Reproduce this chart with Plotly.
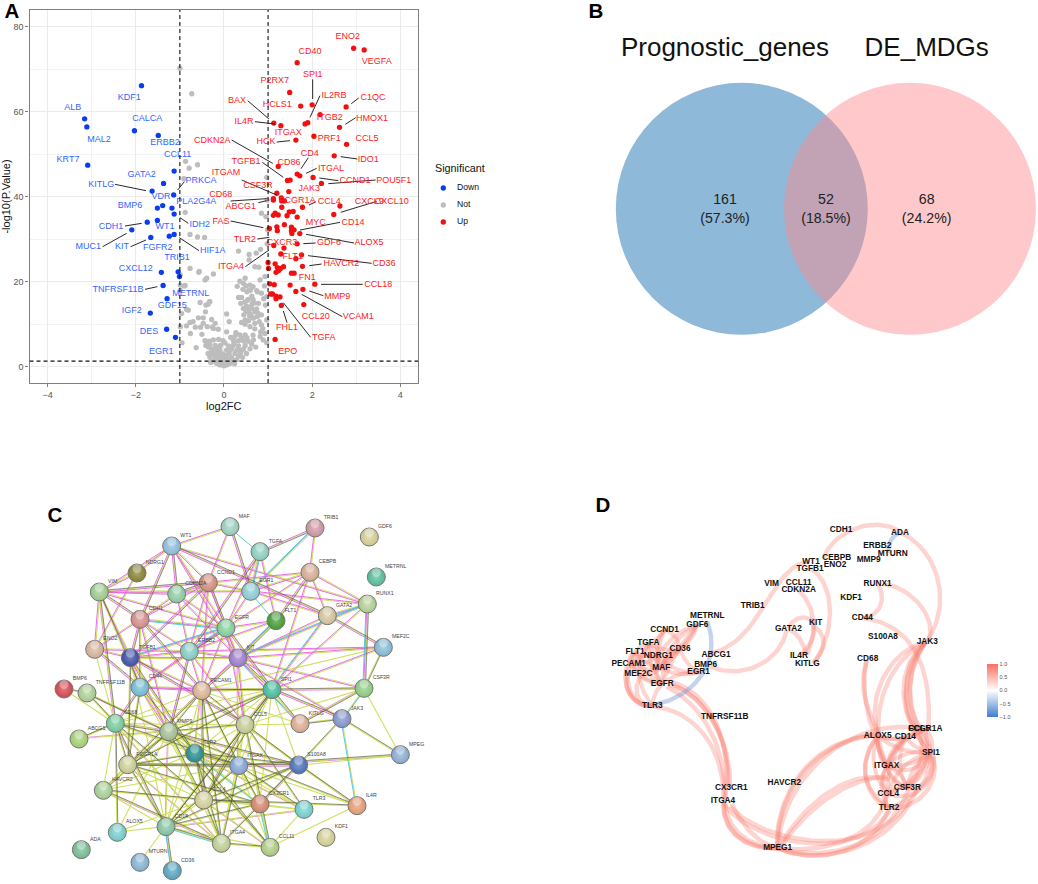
import plotly.graph_objects as go

W, H = 1038, 884

# ---------- Panel A data ----------
down_x = [-1.87,-3.16,-3.11,-2.03,-1.49,-3.09,-1.13,-1.37,-1.63,-1.14,-1.51,-1.39,-1.18,-1.13,-1.74,-1.51,-2.09,-1.66,-1.24,-1.13,-1.42,-1.04,-1.01,-1.38,-1.29,-1.67,-1.30,-1.10]
down_y = [66.1,58.3,56.4,55.5,54.4,47.4,46.0,43.1,41.3,40.4,37.3,37.9,37.3,35.9,34.0,34.4,32.2,30.4,30.7,31.1,22.2,22.3,21.2,19.1,16.0,12.6,8.8,6.9]
up_x = [2.94,3.18,1.66,1.49,1.74,2.0,2.77,2.18,1.90,1.84,2.62,1.13,1.29,2.04,1.63,2.78,2.50,1.23,1.66,1.72,2.02,1.44,1.50,2.21,1.47,1.20,1.12,1.12,1.30,1.31,1.37,2.63,1.78,1.31,2.49,1.12,1.16,1.23,1.48,1.57,1.43,1.66,1.37,1.20,1.53,1.21,1.03,1.53,1.59,1.54,1.72,1.66,1.13,1.36,1.29,1.76,1.63,1.0,1.16,1.78,1.35,1.01,1.21,1.28,1.18,1.24,1.53,1.59,1.04,1.14,1.50,2.06,1.79,1.63,1.06,1.10,1.18,1.18,1.27,1.30,1.81,1.16]
up_y = [74.9,74.5,71.5,64.5,61.3,61.6,61.1,59.3,57.4,57.1,56.3,57.3,56.7,54.2,53.3,52.3,49.6,47.1,45.3,44.9,44.5,43.8,43.9,43.1,41.2,40.8,39.5,39.2,39.7,39.0,39.0,37.8,37.5,37.5,35.8,35.6,36.1,35.7,36.4,36.5,35.5,35.2,33.4,32.9,32.8,32.0,32.5,32.0,32.2,31.3,31.3,28.9,28.5,27.9,26.5,26.3,25.4,24.5,24.2,23.6,23.5,23.1,23.3,23.1,22.2,22.6,22.0,22.0,19.5,19.3,19.2,19.4,18.2,17.7,17.1,17.1,16.6,16.0,16.4,14.4,14.6,6.4]
not_x = [0,-.09,.06,-.17,-.05,.02,.14,-.24,-.13,-.02,.10,.21,.29,-.32,-.20,-.09,.05,.17,.33,.42,-.36,-.26,-.15,-.03,.12,.25,.38,.51,-.28,-.18,-.09,.06,.17,.29,.44,.59,-.41,-.32,-.20,-.08,.10,.21,.33,.48,.63,-.43,-.33,-.24,-.02,.21,.33,.44,.55,.67,.25,.36,.48,.82,.89,.97,.83,.93,.06,-.13,-.26,-.38,-.47,-.53,-.70,-.77,-.85,-.76,-.95,-.63,-.99,-.85,-.54,-.41,-.33,.06,.12,-.28,-.47,-.20,-.24,.40,.48,.45,.55,.44,.51,.63,.70,.59,.67,.76,.85,.80,.70,.59,.85,.55,.40,.33,.63,.78,.76,.85,.44,.50,.59,.82,.48,-.24,-.56,-.99,-.88,-.99,-.99,.93,.97,.94,.97,-1.0,-.73,-.87,-.79,-.60,-.91,.97,-.88,-.77,-.60,-.44,.33,.57,.73,.83,.57,.70,.79,-.77,.98,.85,.95,.98,.99,-.57,-.39,-.43,-.90,-.81,-.96,-.36,-.32,.60,.66,.72,.52,.90,.30,.36,
         -.30,-.22,-.11,.00,.08,.15,.24,-.35,-.27,-.16,-.06,.03,.13,.23,.35,-.37,-.12,.02,.15,.27,.40,.52,.66,.72,.50,.58,.64,.74,.88,.38,.47,.53,.60,.69,.77,.43,.57,.66,.74,.92,.48,.56,.62,.70,-.65,-.58,-.50,-.42]
not_y = [.2,.4,.4,.8,.9,.9,.8,1.4,1.6,1.6,1.4,1.4,1.7,2.2,2.4,2.4,2.2,2.2,2.5,2.2,3.1,3.1,3.3,3.0,3.1,3.1,3.3,3.1,4.1,4.2,3.9,3.9,4.1,3.9,4.1,4.2,5.0,5.2,5.0,5.0,4.9,5.0,4.9,5.0,5.3,6.1,6.0,6.3,6.1,6.3,6.1,6.1,6.0,6.3,7.2,7.5,7.5,7.1,6.3,5.6,8.2,7.8,8.2,8.8,9.3,9.4,10.2,9.3,10.6,10.4,9.6,7.8,5.6,4.5,9.4,13.5,15.1,14.5,15.3,12.4,10.6,11.1,11.5,10.2,9.0,10.4,11.0,12.2,13.3,13.7,14.3,13.7,12.9,12.5,11.4,11.8,12.2,10.6,10.2,9.4,9.8,15.8,16.3,16.3,16.6,14.9,17.6,17.3,19.6,19.0,19.2,20.4,20.8,21.8,22.4,21.6,19.1,19.2,18.0,21.2,16.5,14.5,11.0,70.2,64.2,48.3,46.7,47.5,44.2,44.5,36.3,31.1,30.5,30.4,27.2,26.4,26.7,27.6,25.1,23.5,23.4,23.1,28.9,36.1,35.3,39.2,32.2,22.2,20.8,20.4,19.0,13.3,12.5,14.7,15.3,18.0,15.8,13.0,17.6,16.0,18.9,20.1,
         1.0,2.9,.6,1.1,.6,1.9,.7,4.6,3.5,4.5,2.9,2.7,4.5,5.6,3.8,5.8,6.4,5.6,6.9,8.0,6.7,6.8,7.4,4.6,13.0,12.0,14.8,13.6,9.0,14.9,15.2,15.6,14.0,15.0,12.6,18.2,18.0,18.8,17.9,19.0,10.0,10.8,11.9,8.9,9.3,11.5,7.6,12.9]

# gene labels of panel A, read as crop positions (left crop, right crop)
blue_labels = ["KDF1","ALB","CALCA","MAL2","ERBB2","CCL11","KRT7","GATA2","PRKCA","KITLG","VDR","PLA2G4A","BMP6","IDH2","CDH1","WT1","MUC1","KIT","FGFR2","HIF1A","TRIB1","CXCL12","TNFRSF11B","METRNL","GDF15","IGF2","DES","EGR1"]
blue_lx = [388,218,442,297,495,533,204,425,603,304,483,589,390,599,333,495,265,366,473,638,531,407,354,572,517,395,447,484]
blue_ly = [293,323,357,418,427,463,480,524,542,554,590,604,617,674,679,679,741,741,744,751,772,807,870,880,917,932,995,1056]
red_labels = ["ENO2","CD40","VEGFA","SPI1","P2RX7","IL2RB","C1QC","HCLS1","ITGB2","HMOX1","ITGAX","PRF1","CCL5","CD4","IDO1","CD86","ITGAL","CCND1","POU5F1","JAK3","FCGR1A","CCL4","CXCL9","CXCL10","MYC","CD14","GDF6","ALOX5","CXCR3","FLT1","HAVCR2","CD36","FN1","CCL18","MMP9","CCL20","VCAM1","FHL1","TGFA","EPO"]
red_lx = [383,270,470,278,164,342,459,172,329,456,205,328,441,269,445,207,333,405,521,268,232,328,448,515,287,399,327,447,186,218,364,492,262,475,352,287,415,201,311,203]
red_ly = [110,154,186,224,241,286,292,313,354,355,398,416,417,460,479,488,505,542,542,565,601,605,605,605,667,667,729,729,727,769,792,792,832,853,889,950,950,984,1014,1054]
red2_labels = ["BAX","IL4R","CDKN2A","HCK","TGFB1","ITGAM","CSF3R","CD68","ABCG1","FAS","TLR2","ITGA4"]
red2_lx = [201,222,127,288,228,168,264,152,212,153,224,183]
red2_ly = [122,184,242,246,304,337,378,405,441,486,538,621]

leaders_left = [(345,553,438,572),(553,545,533,570),(565,670,540,653),(375,678,425,670),(308,740,380,700),(392,740,438,720),(597,752,538,713),(435,868,472,860)]
leaders_right = [(83,302,147,357),(105,365,165,372),(35,420,158,490),(170,426,210,422),(127,487,190,532),(65,540,170,585),(32,603,140,596),(115,608,140,602),(32,663,130,683),(112,717,148,712),(76,800,147,750),(278,238,278,297),(300,287,270,352),(416,294,394,311),(407,353,376,373),(265,473,243,506),(290,505,258,520),(412,477,362,470),(355,542,298,534),(467,540,325,551),(288,605,267,615),(470,604,362,637),(360,667,240,690),(402,729,258,703),(287,729,250,731),(455,790,264,767),(305,792,268,797),(428,853,303,853),(310,887,268,873),(367,950,245,883),(272,1012,190,908),(201,968,190,933)]

legend_names = ["Down", "Not", "Up"]
legend_colors = ["#0a3cf0", "#bdbdbd", "#f01010"]

# ---------- Panel B ----------
venn_sets = ["Prognostic_genes", "DE_MDGs"]
venn_counts = ["161<br>(57.3%)", "52<br>(18.5%)", "68<br>(24.2%)"]

# ---------- Panel C ----------
c_names = ["MAF","TRIB1","GDF6","WT1","TGFA","NDRG1","CCND1","CEBPB","METRNL","VIM","CDKN2A","EGR1","RUNX1","CDH1","GATA2","FLT1","EGFR","MEF2C","ENO2","TGFB1","ERBB2","KIT","BMP6","TNFRSF11B","CD44","PECAM1","SPI1","CSF3R","JAK3","KITLG","CD68","MMP9","CCL5","ABCG1","TLR2","MPEG","FCGR1A","ITGAX","S100A8","HAVCR2","CCL4","CX3CR1","TLR3","IL4R","ALOX5","CD14","ITGA4","CCL11","KDF1","ADA","MTURN","CD36"]
c_x = [570,825,988,395,660,291,505,810,1009,178,410,632,982,300,862,708,558,1030,164,271,448,594,72,141,300,485,696,972,906,780,226,386,615,117,464,1081,263,596,776,190,491,660,792,951,232,378,544,690,858,124,300,397]
c_y = [110,114,141,168,185,249,278,247,261,306,312,304,342,388,377,392,414,472,478,503,484,504,597,609,592,602,599,595,686,701,700,725,704,747,790,794,824,827,825,901,930,942,958,947,1027,1010,1060,1072,1042,1079,1117,1142]
c_colors = ["#a0d8c4","#d89cac","#ddd59c","#94c4e4","#94d8c8","#8f8a38","#dd9484","#deb49c","#5cc4a0","#a4d494","#94d4ac","#94d4dc","#bcd89c","#dd9494","#ddcca4","#4ca43c","#8cd8a4","#8cc4dc","#ddbca4","#4454ac","#8cd4cc","#a484d4","#dd4c54","#b4d89c","#7cc4dc","#e4bc9c","#4cc4a4","#94d48c","#8c9cd4","#e4b49c","#7cd4a4","#acc89c","#ccd49c","#acd87c","#2c9494","#94b4dc","#d4d89c","#8cacdc","#5078c0","#acd89c","#dcd8a4","#dd8c74","#7cd8d8","#eca47c","#7cd4d4","#8cccac","#c4d89c","#b4d48c","#dcd89c","#7cc49c","#8cbcdc","#5cacc8"]
c_edges_upper = "WT1-CDKN2A WT1-VIM WT1-NDRG1 WT1-EGFR WT1-GATA2 WT1-RUNX1 WT1-CCND1 WT1-KIT WT1-CDH1 VIM-NDRG1 VIM-CDKN2A VIM-EGFR VIM-CDH1 VIM-ENO2 VIM-TGFB1 VIM-EGR1 VIM-CCND1 NDRG1-ENO2 CDH1-EGFR CDH1-ERBB2 CDH1-TGFB1 CDH1-CDKN2A CDH1-CCND1 CDH1-CD44 CDKN2A-CCND1 CDKN2A-EGFR CDKN2A-ERBB2 CDKN2A-KIT CCND1-EGFR CCND1-ERBB2 CCND1-KIT CCND1-EGR1 CCND1-TGFB1 EGR1-EGFR EGR1-CEBPB EGR1-TGFA MAF-EGR1 MAF-CCND1 MAF-WT1 TGFA-EGFR TGFA-ERBB2 TGFA-FLT1 TRIB1-CEBPB TRIB1-EGR1 TRIB1-TGFA CEBPB-GATA2 CEBPB-RUNX1 CEBPB-EGFR CEBPB-FLT1 CEBPB-SPI1 CEBPB-CCND1 GATA2-RUNX1 GATA2-MEF2C GATA2-KIT GATA2-SPI1 GATA2-EGR1 RUNX1-CSF3R RUNX1-SPI1 RUNX1-KIT RUNX1-EGR1 FLT1-KIT FLT1-EGFR FLT1-ERBB2 FLT1-PECAM1 EGFR-ERBB2 EGFR-KIT EGFR-TGFB1 EGFR-CD44 EGFR-SPI1 ERBB2-KIT ERBB2-TGFB1 ERBB2-CD44 KIT-SPI1 KIT-CSF3R KIT-KITLG KIT-TGFB1 KIT-PECAM1 TGFB1-CD44 TGFB1-MMP9 TGFB1-PECAM1 TGFB1-CCL5 CD44-MMP9 CD44-PECAM1 CD44-SPI1 CD44-CD68 ENO2-TGFB1 ENO2-ERBB2 ENO2-CDH1 ENO2-CD44 MEF2C-KIT MEF2C-ERBB2 MEF2C-SPI1 CDH1-PECAM1 CDH1-MMP9 CCND1-PECAM1 ERBB2-PECAM1 ERBB2-MMP9 EGFR-PECAM1 KIT-CCL5 KIT-JAK3 SPI1-JAK3 EGFR-CCL5 ERBB2-CCL5".split()
c_edges_immune = "PECAM1-MMP9 PECAM1-TLR2 PECAM1-CCL5 PECAM1-SPI1 PECAM1-ITGAX PECAM1-CD14 PECAM1-CCL4 PECAM1-CX3CR1 PECAM1-ITGA4 PECAM1-CD68 PECAM1-FCGR1A PECAM1-HAVCR2 PECAM1-CSF3R PECAM1-KITLG SPI1-MMP9 SPI1-TLR2 SPI1-CCL5 SPI1-ITGAX SPI1-CD14 SPI1-CD68 SPI1-FCGR1A SPI1-CSF3R SPI1-KITLG SPI1-S100A8 SPI1-CCL4 SPI1-CX3CR1 MMP9-CD68 MMP9-TLR2 MMP9-CCL5 MMP9-ITGAX MMP9-FCGR1A MMP9-CD14 MMP9-CCL4 MMP9-CX3CR1 MMP9-HAVCR2 MMP9-ITGA4 MMP9-S100A8 MMP9-TLR3 MMP9-IL4R MMP9-ALOX5 MMP9-CCL11 MMP9-ABCG1 MMP9-TNFRSF11B CD68-TLR2 CD68-FCGR1A CD68-HAVCR2 CD68-CD14 CD68-CCL5 CD68-ITGAX CD68-ABCG1 CD68-ALOX5 CD68-ITGA4 CD68-CCL4 CD68-TNFRSF11B TLR2-FCGR1A TLR2-CCL5 TLR2-ITGAX TLR2-CD14 TLR2-CCL4 TLR2-CX3CR1 TLR2-ITGA4 TLR2-TLR3 TLR2-S100A8 TLR2-HAVCR2 TLR2-CCL11 CCL5-ITGAX CCL5-CCL4 CCL5-CX3CR1 CCL5-CD14 CCL5-KITLG CCL5-TLR3 CCL5-IL4R CCL5-S100A8 CCL5-ITGA4 CCL5-CCL11 CCL5-CSF3R ITGAX-FCGR1A ITGAX-HAVCR2 ITGAX-CD14 ITGAX-CCL4 ITGAX-CX3CR1 ITGAX-S100A8 ITGAX-TLR3 ITGAX-IL4R ITGAX-ITGA4 ITGAX-CCL11 ITGAX-MPEG FCGR1A-HAVCR2 FCGR1A-CD14 FCGR1A-CCL4 FCGR1A-S100A8 FCGR1A-ITGA4 FCGR1A-CX3CR1 HAVCR2-CD14 HAVCR2-CCL4 HAVCR2-CX3CR1 HAVCR2-ITGA4 CCL4-CD14 CCL4-CX3CR1 CCL4-TLR3 CCL4-ITGA4 CCL4-CCL11 CCL4-IL4R CCL4-ALOX5 CCL4-S100A8 CD14-ALOX5 CD14-CD36 CD14-MTURN CD14-ITGA4 CD14-CCL11 CD14-CX3CR1 CD14-TLR3 CD14-S100A8 CX3CR1-TLR3 CX3CR1-ITGA4 CX3CR1-CCL11 CX3CR1-S100A8 TLR3-CCL11 S100A8-JAK3 S100A8-MPEG S100A8-IL4R JAK3-CSF3R JAK3-MPEG JAK3-IL4R JAK3-KITLG CSF3R-MPEG CSF3R-KITLG IL4R-CCL11 BMP6-TNFRSF11B BMP6-CD68 TNFRSF11B-CD68 TNFRSF11B-MMP9 ABCG1-CD68 ENO2-CD68 VIM-CD44 VIM-MMP9 VIM-CD68 MEF2C-PECAM1 MEF2C-CSF3R CD14-ITGAX ITGA4-CCL11 KIT-ITGAX CD44-TLR2 CD44-ITGAX CD44-FCGR1A CD44-CCL4 TGFB1-TLR2 TGFB1-CD14 TGFB1-FCGR1A".split()
c_edges_cyan = "EGR1-FLT1 EGR1-TGFA MAF-TGFA TRIB1-EGR1 RUNX1-CSF3R GATA2-RUNX1 JAK3-CSF3R JAK3-IL4R EGFR-ERBB2 FLT1-KIT CD14-CD36 KIT-KITLG CD14-ITGA4 TLR2-CX3CR1 CX3CR1-CCL11 S100A8-CX3CR1 EGFR-TGFB1 CDH1-EGFR GATA2-SPI1 RUNX1-KIT".split()

# ---------- Panel D ----------
d_names = ["CDH1","ADA","ERBB2","MTURN","CEBPB","MMP9","WT1","ENO2","TGFB1","VIM","CCL11","CDKN2A","RUNX1","KDF1","TRIB1","METRNL","CD44","GDF6","KIT","GATA2","CCND1","S100A8","TGFA","JAK3","CD36","FLT1","ABCG1","NDRG1","IL4R","CD68","PECAM1","KITLG","BMP6","MAF","EGR1","MEF2C","EGFR","TLR3","TNFRSF11B","CCL5","FCGR1A","ALOX5","CD14","SPI1","ITGAX","HAVCR2","CSF3R","CX3CR1","CCL4","ITGA4","TLR2","MPEG1"]
d_x = [753,930,862,908,740,836,663,735,660,545,626,626,863,783,488,352,817,322,677,595,224,879,175,1012,270,135,378,205,627,833,116,652,347,214,326,145,217,187,404,987,1006,863,946,1023,890,583,952,424,895,399,897,563]
d_y = [120,128,167,191,203,210,217,226,237,281,279,300,283,323,348,377,384,404,400,417,419,441,460,456,477,487,494,498,498,508,522,522,525,535,547,553,582,647,682,716,717,737,741,788,827,880,895,895,912,934,954,1075]
# chord list: gene pair and curve bulge
d_chords = [("TGFA","MAF",.1),("TGFA","FLT1",.2),("TGFA","EGFR",.2),("TGFA","CD36",.2),("TGFA","CCND1",.2),("FLT1","PECAM1",.3),("FLT1","MEF2C",.3),("FLT1","MAF",.2),("FLT1","NDRG1",.2),("FLT1","EGFR",.2),("PECAM1","MAF",.2),("PECAM1","EGFR",.2),("PECAM1","NDRG1",.2),("MEF2C","EGFR",.2),("MEF2C","MAF",.2),("NDRG1","MAF",.3),("NDRG1","EGFR",.3),("CCND1","NDRG1",.3),("CCND1","MAF",.2),("CCND1","CD36",-.3),("CD36","MAF",.3),("CD36","EGFR",.3),("CD36","GDF6",.2),("GDF6","MAF",.2),("GDF6","MAF",-.1),("GDF6","EGFR",.1),("GDF6","NDRG1",.2),("CD36","EGR1",.2),("EGFR","EGR1",-.2),("MAF","EGR1",.2),("EGFR","TLR3",.2),("TGFA","TLR3",.35),("NDRG1","EGR1",.25),("MAF","CD36",-.2),("TGFA","NDRG1",-.2),("PECAM1","TGFA",.25),("ALOX5","SPI1",.2),("CD14","SPI1",.2),("ITGAX","SPI1",.2),("ITGAX","SPI1",-.25),("ITGAX","SPI1",.45),("SPI1","CSF3R",.25),("SPI1","CSF3R",-.2),("SPI1","CCL4",.3),("SPI1","CCL4",-.2),("SPI1","TLR2",-.35),("ITGAX","CSF3R",.3),("ITGAX","CSF3R",-.25),("ITGAX","CCL4",.3),("ITGAX","TLR2",.3),("CSF3R","CCL4",.3),("CCL4","TLR2",.4),("CD14","ITGAX",.2),("CD14","CSF3R",.25),("FCGR1A","SPI1",-.3),("FCGR1A","ITGAX",.2),("FCGR1A","CSF3R",-.3),("CCL5","ITGAX",.2),("CCL5","SPI1",-.2),("CD14","CCL4",.2),("ALOX5","CD14",.2),("ALOX5","FCGR1A",.25),("ALOX5","ITGAX",.2),("ALOX5","CCL4",.3),("ALOX5","TLR2",.5),("ALOX5","CSF3R",.3),("CCL5","CSF3R",-.25)]
# long hand-read arcs: four control points each (crop positions)
d_arcs = [
 (700,205,730,120,860,75,930,125),(930,128,1035,170,1095,330,1010,455),(880,282,960,290,1045,380,1015,455),(865,285,890,330,870,375,820,385),(825,385,930,400,1030,480,1015,715),
 (830,510,805,590,830,660,868,735),(830,510,805,620,850,740,888,825),(1005,458,900,480,825,620,865,735),(1005,458,880,520,830,700,890,825),(1005,458,910,540,925,690,1020,790),(1005,458,920,540,935,690,1020,790),(1005,458,940,560,950,680,1000,720),(1005,458,930,560,960,690,1015,770),(1005,458,920,570,940,700,990,720),
 (360,490,520,460,540,220,660,215),(660,235,730,270,745,420,670,520),(625,300,680,350,680,430,650,495),(595,415,610,380,650,370,675,400),(590,420,570,520,450,575,350,525),(670,520,720,470,700,420,670,410),(600,420,625,430,640,460,650,495),(670,400,680,440,660,470,630,495),
 (240,585,360,620,420,760,415,890),(230,590,330,640,410,760,405,930),(250,585,350,620,425,760,420,890),(190,650,310,660,405,770,400,930),(245,575,365,610,430,760,405,930),
 (400,935,400,1030,470,1075,563,1075),(400,935,395,1035,475,1080,563,1075),(405,935,410,1025,480,1070,563,1075),(425,940,450,1000,500,1060,563,1075),(400,940,480,1060,800,1130,900,960),(420,950,520,1060,840,1120,960,930),
 (563,1075,690,1130,850,1080,895,960),(563,1075,700,1090,860,1050,890,915),(563,1075,680,1125,900,1090,980,900),(563,1075,690,1110,880,1090,955,900),
 (560,1070,560,880,690,740,865,735),(562,1070,562,885,695,745,865,735),(565,1075,570,880,760,680,990,715),(565,1075,640,940,780,830,900,870),(570,1075,650,950,780,860,895,860),
 (110,560,100,620,150,650,187,646),(110,530,90,610,150,660,187,646),(130,490,85,590,140,660,187,646),(150,560,120,620,160,650,187,646),
 (860,740,790,830,840,945,897,950),(1030,800,1055,900,960,965,897,953),(1030,790,1045,880,970,940,895,912),(1025,800,1040,870,980,910,952,895)]
d_blue_arcs = [(352,395,395,510,320,620,190,645),(930,128,905,135,895,160,895,190)]
cbar_ticks = [-1, -0.5, 0, 0.5, 1]
cbar_text = ["\u22121.0", "\u22120.5", "0.0", "0.5", "1.0"]

# ---------- Helpers for page mapping ----------
def left_crop(x, y): return x / 3, y / 3
def right_crop(x, y): return 220 + x / 3, y / 3
def mid_crop(x, y): return 170 + x / 3, 60 + y / 3
def c_crop(x, y): return 40 + x / 3, 490 + y / 3
def d_crop(x, y): return 590 + x / 3, 490 + y / 3

def cubic(a):
    xs, ys = [], []
    for i in range(33):
        t = i / 32
        u = 1 - t
        px = u**3*a[0] + 3*u*u*t*a[2] + 3*u*t*t*a[4] + t**3*a[6]
        py = u**3*a[1] + 3*u*u*t*a[3] + 3*u*t*t*a[5] + t**3*a[7]
        q = d_crop(px, py)
        xs.append(q[0]); ys.append(q[1])
    return xs, ys

fig = go.Figure()
OV = dict(xaxis="x2", yaxis="y2", showlegend=False, hoverinfo="skip")
DOT = 5.3

# ---- Panel A points ----
fig.add_trace(go.Scatter(x=not_x, y=not_y, mode="markers", name="Not", showlegend=False, marker=dict(color=legend_colors[1], size=DOT)))
fig.add_trace(go.Scatter(x=down_x, y=down_y, mode="markers", name="Down", showlegend=False, marker=dict(color=legend_colors[0], size=DOT)))
fig.add_trace(go.Scatter(x=up_x, y=up_y, mode="markers", name="Up", showlegend=False, marker=dict(color=legend_colors[2], size=DOT)))

# leaders
lx, ly = [], []
for s in leaders_left:
    a = left_crop(s[0], s[1]); b = left_crop(s[2], s[3])
    lx += [a[0], b[0], None]; ly += [a[1], b[1], None]
for s in leaders_right:
    a = right_crop(s[0], s[1]); b = right_crop(s[2], s[3])
    lx += [a[0], b[0], None]; ly += [a[1], b[1], None]
fig.add_trace(go.Scatter(x=lx, y=ly, mode="lines", line=dict(color="#111111", width=0.9), **OV))

def text_trace(names, pts, color, size, bold=False, family="Liberation Sans", pos="middle center"):
    fig.add_trace(go.Scatter(x=[p[0] for p in pts], y=[p[1] for p in pts], text=names, mode="text",
                             textposition=pos, textfont=dict(color=color, size=size, family=family, weight=700 if bold else 400), **OV))

text_trace(blue_labels, [left_crop(a, b) for a, b in zip(blue_lx, blue_ly)], "#3366ff", 9)
text_trace(red_labels, [right_crop(a, b) for a, b in zip(red_lx, red_ly)], "#ff2020", 9)
text_trace(red2_labels, [mid_crop(a, b) for a, b in zip(red2_lx, red2_ly)], "#ff2020", 9)

# legend key
text_trace(["Significant"], [(435, 169)], "#111111", 10.8, pos="middle right")
fig.add_trace(go.Scatter(x=[443.3, 443.3, 443.3], y=[188, 205, 222], mode="markers", marker=dict(color=legend_colors, size=DOT), **OV))
text_trace(legend_names, [(457, 188), (457, 205), (457, 222)], "#111111", 8.6, pos="middle right")

# ---- Panel B ----
shapes = []
shapes.append(dict(type="circle", xref="x2", yref="y2", x0=741.8-126, x1=741.8+126, y0=82.8, y1=334.8, fillcolor="#8fb9d9", line=dict(width=0), layer="below"))
shapes.append(dict(type="circle", xref="x2", yref="y2", x0=910-126, x1=910+126, y0=82.8, y1=334.8, fillcolor="rgba(255,138,142,0.46)", line=dict(width=0), layer="below"))
text_trace(venn_sets, [(725, 49), (926.7, 49)], "#111111", 26)
text_trace(venn_counts, [(725, 210), (826, 210), (926.7, 210)], "#222222", 14.2)

# ---- Panel C ----
cpos = {n: c_crop(a, b) for n, a, b in zip(c_names, c_x, c_y)}
def edges_trace(edges, color, off, width):
    xs, ys = [], []
    for e in edges:
        a, b = e.split("-")
        p, q = cpos[a], cpos[b]
        dx, dy = q[0]-p[0], q[1]-p[1]
        n = (dx*dx + dy*dy) ** .5
        ox, oy = -dy/n*off, dx/n*off
        xs += [p[0]+ox, q[0]+ox, None]; ys += [p[1]+oy, q[1]+oy, None]
    fig.add_trace(go.Scatter(x=xs, y=ys, mode="lines", line=dict(color=color, width=width), **OV))
edges_trace(c_edges_immune[1::5], "#df55df", 1.0, 0.7)
edges_trace(c_edges_immune, "#cfe060", 0.3, 1.1)
edges_trace(c_edges_upper, "#cfe060", -0.7, 1.0)
edges_trace(c_edges_upper, "#e35fe3", 0.4, 0.9)
edges_trace(c_edges_cyan, "#3fc8e2", 1.2, 0.9)
edges_trace(c_edges_upper[::4], "#4a4a4a", -1.4, 0.6)
edges_trace(c_edges_immune[::2], "#4d4d3c", -0.6, 0.65)

ptsc = [cpos[n] for n in c_names]
def darker(h, f):
    r, g, b = int(h[1:3], 16), int(h[3:5], 16), int(h[5:7], 16)
    return "rgb(%d,%d,%d)" % (r*f, g*f, b*f)
def lighter(h, f):
    r, g, b = int(h[1:3], 16), int(h[3:5], 16), int(h[5:7], 16)
    return "rgb(%d,%d,%d)" % (r+(255-r)*f, g+(255-g)*f, b+(255-b)*f)
fig.add_trace(go.Scatter(x=[p[0] for p in ptsc], y=[p[1] for p in ptsc], mode="markers",
    marker=dict(size=18, color=[darker(c, .92) for c in c_colors],
                gradient=dict(type="radial", color=[lighter(c, .25) for c in c_colors]),
                line=dict(color="#77776f", width=1)), **OV))
fig.add_trace(go.Scatter(x=[p[0] for p in ptsc], y=[p[1]-4.5 for p in ptsc], mode="markers",
    marker=dict(size=9, color="rgba(255,255,255,0.35)", line=dict(width=0)), **OV))
text_trace(c_names, [(p[0]+8.7, p[1]-10.2) for p in ptsc], "#444444", 5.2, pos="middle right")

# ---- Panel D ----
dpos = {n: d_crop(a, b) for n, a, b in zip(d_names, d_x, d_y)}
CH = "#fa8072"
for a, b, k in d_chords:
    p, q = dpos[a], dpos[b]
    mx, my = (p[0]+q[0])/2 - (q[1]-p[1])*k, (p[1]+q[1])/2 + (q[0]-p[0])*k
    xs, ys = [], []
    for i in range(21):
        t = i/20; u = 1-t
        xs.append(u*u*p[0] + 2*u*t*mx + t*t*q[0]); ys.append(u*u*p[1] + 2*u*t*my + t*t*q[1])
    fig.add_trace(go.Scatter(x=xs, y=ys, mode="lines", opacity=.33, line=dict(color=CH, width=4), **OV))
for a in d_arcs:
    xs, ys = cubic(a)
    fig.add_trace(go.Scatter(x=xs, y=ys, mode="lines", opacity=.33, line=dict(color=CH, width=4.4), **OV))
for a in d_blue_arcs:
    xs, ys = cubic(a)
    fig.add_trace(go.Scatter(x=xs, y=ys, mode="lines", opacity=.45, line=dict(color="#7f9fdc", width=4.4), **OV))
text_trace(d_names, [dpos[n] for n in d_names], "#111111", 8.3, bold=True)

# colourbar
fig.add_trace(go.Scatter(x=[None], y=[None], mode="markers", xaxis="x2", yaxis="y2", showlegend=False, hoverinfo="skip",
    marker=dict(color=[0], cmin=-1, cmax=1, showscale=True,
        colorscale=[[0, "#3f7fcf"], [.5, "#ffffff"], [1, "#fa6e5e"]],
        colorbar=dict(x=986.7/W, xanchor="left", xpad=0, y=1-664/H, yanchor="top", ypad=0, lenmode="pixels", len=53,
                      thickness=10.5, thicknessmode="pixels", outlinewidth=0, tickvals=cbar_ticks, ticktext=cbar_text, ticks="",
                      ticklabelposition="outside", tickfont=dict(size=5.5, color="#555555", family="Liberation Sans")))))

# panel letters
text_trace(["A", "B", "C", "D"], [(12, 13), (596, 13), (55, 516.7), (603, 507)], "#000000", 20.5, bold=True)

# dashed thresholds
DASH = dict(color="#111111", width=1.1, dash="4px,3px")
XR = [-4.41, 4.4]
YR = [-3.84, 83.9]
for v in (-1, 1):
    shapes.append(dict(type="line", xref="x", yref="y", x0=v, x1=v, y0=YR[0], y1=YR[1], line=DASH))
shapes.append(dict(type="line", xref="x", yref="y", x0=XR[0], x1=XR[1], y0=1.3, y1=1.3, line=DASH))

fig.update_layout(
    width=W, height=H, margin=dict(l=0, r=0, t=0, b=0), plot_bgcolor="rgba(0,0,0,0)", paper_bgcolor="white",
    font=dict(family="Liberation Sans", color="#111111"), shapes=shapes, showlegend=False,
    xaxis=dict(domain=[29.5/W, 418/W], range=XR, anchor="y", tickvals=[-4, -2, 0, 2, 4], ticktext=["\u22124", "\u22122", "0", "2", "4"],
               showgrid=True, gridcolor="#ebebeb", gridwidth=1, zeroline=False, showline=True, mirror=True, linecolor="#7f7f7f", linewidth=1.4,
               ticks="outside", ticklen=3, tickcolor="#7f7f7f", tickfont=dict(size=9, color="#555555"),
               minor=dict(tickvals=[-3, -1, 1, 3], showgrid=True, gridcolor="#f3f3f3", gridwidth=.6, ticks=""),
               title=dict(text="log2FC", font=dict(size=11), standoff=1)),
    yaxis=dict(domain=[1-383/H, 1-10/H], range=YR, anchor="x", tickvals=[0, 20, 40, 60, 80],
               showgrid=True, gridcolor="#ebebeb", gridwidth=1, zeroline=False, showline=True, mirror=True, linecolor="#7f7f7f", linewidth=1.4,
               ticks="outside", ticklen=3, tickcolor="#7f7f7f", tickfont=dict(size=9, color="#555555"),
               minor=dict(tickvals=[10, 30, 50, 70], showgrid=True, gridcolor="#f3f3f3", gridwidth=.6, ticks=""),
               title=dict(text="-log10(P.Value)", font=dict(size=11), standoff=1)),
    xaxis2=dict(domain=[0, 1], range=[0, W], anchor="y2", visible=False, fixedrange=True),
    yaxis2=dict(domain=[0, 1], range=[H, 0], anchor="x2", visible=False, fixedrange=True),
)
fig.write_html("out.html", config=dict(displayModeBar=False), post_script="document.body.style.margin='0';")
